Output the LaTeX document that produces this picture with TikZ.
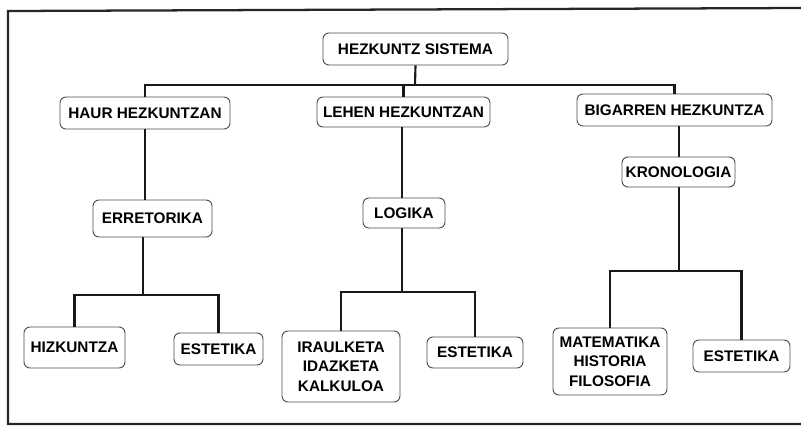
\documentclass[tikz,border=0pt]{standalone}
\usepackage{fontspec}
\setmainfont{Liberation Sans}
\begin{document}
\begin{tikzpicture}[x=0.75pt,y=-0.75pt,
  box/.style={draw=black!70, line width=0.7pt, rounded corners=4.5pt, fill=white,
    font=\fontsize{11.5}{14.5}\selectfont\bfseries, align=center,
    inner sep=0pt},
  sz/.style 2 args={minimum width=#1*0.75pt, minimum height=#2*0.75pt},
  link/.style={line width=1.6pt, black!90},
  frame/.style={line width=1.7pt, black!85}]
\useasboundingbox (0,0) rectangle (801,426);

% outer frame (open on the right)
\draw[frame] (801,8) -- (8,11) -- (8,424) -- (801,424);

% nodes
\node[box, sz={185}{32}] (top) at (415.5,49) {HEZKUNTZ SISTEMA};
\node[box, sz={170}{32}] (haur) at (145,113) {HAUR HEZKUNTZAN};
\node[box, sz={173}{30}] (lehen) at (403.5,112) {LEHEN HEZKUNTZAN};
\node[box, sz={195}{32}] (bigarren) at (674.5,110) {BIGARREN HEZKUNTZA};
\node[box, sz={113}{30}] (krono) at (678.5,172) {KRONOLOGIA};
\node[box, sz={119}{37}] (erre) at (152.5,218.5) {ERRETORIKA};
\node[box, sz={82}{30}] (logika) at (404,213) {LOGIKA};
\node[box, sz={101}{41}] (hizk) at (74.5,347.5) {HIZKUNTZA};
\node[box, sz={89}{32}] (est1) at (218.5,349) {ESTETIKA};
\node[box, sz={118}{71}] (iraul) at (341,366.5) {IRAULKETA\\IDAZKETA\\KALKULOA};
\node[box, sz={96}{31}] (est2) at (475,352.5) {ESTETIKA};
\node[box, sz={114}{67}] (mate) at (610,361.5) {MATEMATIKA\\HISTORIA\\FILOSOFIA};
\node[box, sz={97}{32}] (est3) at (741.5,356) {ESTETIKA};

% bus junctions
\coordinate (b0) at (415,85);
\coordinate (b1) at (143,295);
\coordinate (b2) at (402,292);
\coordinate (b3) at (679,271);

% connectors
\draw[link] (top.south) -- (b0);
\draw[link] (haur.north) |- (b0) -| (bigarren.north);
\draw[link] (lehen.north) -- (lehen.north |- b0);

\draw[link] (haur.south) -- (haur.south |- erre.north);
\draw[link] (b1 |- erre.south) -- (b1);
\draw[link] (hizk.north) |- (b1) -| (est1.north);

\draw[link] (b2 |- lehen.south) -- (b2 |- logika.north);
\draw[link] (b2 |- logika.south) -- (b2);
\draw[link] (iraul.north) |- (b2) -| (est2.north);

\draw[link] (b3 |- bigarren.south) -- (b3 |- krono.north);
\draw[link] (b3 |- krono.south) -- (b3);
\draw[link] (mate.north) |- (b3) -| (est3.north);
\end{tikzpicture}
\end{document}
